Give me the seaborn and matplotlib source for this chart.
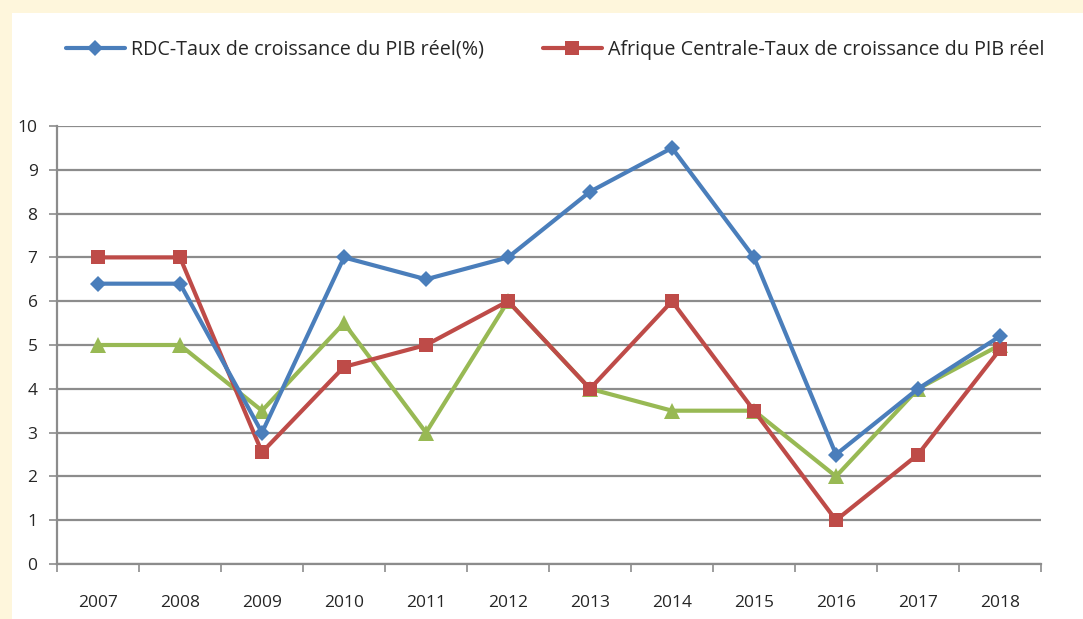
import numpy as np
import pandas as pd
import matplotlib
matplotlib.use("Agg")
import matplotlib.pyplot as plt
from matplotlib.patches import Rectangle
import seaborn as sns

# data
years = ["2007", "2008", "2009", "2010", "2011", "2012",
         "2013", "2014", "2015", "2016", "2017", "2018"]
rdc = [6.4, 6.4, 3.0, 7.0, 6.5, 7.0, 8.5, 9.5, 7.0, 2.5, 4.0, 5.2]
afrique_centrale = [7.0, 7.0, 2.55, 4.5, 5.0, 6.0, 4.0, 6.0, 3.5, 1.0, 2.5, 4.9]
troisieme = [5.0, 5.0, 3.5, 5.5, 3.0, 6.0, 4.0, 3.5, 3.5, 2.0, 4.0, 5.0]

label_rdc = "RDC-Taux de croissance du PIB réel(%)"
label_ac = "Afrique Centrale-Taux de croissance du PIB réel"

sns.set_style("white")
plt.rcParams["font.family"] = ["Open Sans", "DejaVu Sans"]

fig = plt.figure(figsize=(10.83, 6.19), dpi=100)
fig.patch.set_facecolor("#fef6dc")
# white chart panel, behind the axes
fig.patches.append(Rectangle((12 / 1083, 0), 1.0, (619 - 13) / 619,
                             transform=fig.transFigure, facecolor="white",
                             edgecolor="none", zorder=-10))

ax = fig.add_axes([57 / 1083, (619 - 564) / 619, (1041 - 57) / 1083, (564 - 126) / 619])
ax.set_facecolor("none")

pos = np.arange(len(years))
df = pd.DataFrame({"pos": pos, "rdc": rdc, "ac": afrique_centrale, "autre": troisieme})

sns.lineplot(data=df, x="pos", y="autre", ax=ax, color="#98b954", lw=3,
             marker="^", markersize=11, markeredgewidth=0, zorder=3)
sns.lineplot(data=df, x="pos", y="ac", ax=ax, color="#be4b48", lw=3,
             marker="s", markersize=10, markeredgewidth=0, zorder=4,
             label=label_ac)
sns.lineplot(data=df, x="pos", y="rdc", ax=ax, color="#4a7ebb", lw=3,
             marker="D", markersize=8, markeredgewidth=0, zorder=5,
             label=label_rdc)

ax.set_xlim(-0.5, len(years) - 0.5)
ax.set_ylim(0, 10)
ax.set_yticks(range(0, 11))
ax.yaxis.grid(True, color="#8c8c8c", lw=1.6)
ax.set_axisbelow(True)

# tick marks between categories, labels in the middle
ax.set_xticks(np.arange(-0.5, len(years), 1.0))
ax.set_xticklabels([])
ax.set_xticks(pos, minor=True)
ax.set_xticklabels(years, minor=True)
ax.tick_params(axis="x", which="major", bottom=True, length=6, width=1.2,
               color="#8c8c8c", direction="out")
ax.tick_params(axis="x", which="minor", bottom=True, length=0, pad=22, labelsize=12.5)
ax.tick_params(axis="y", left=True, length=6, width=1.2, color="#8c8c8c", direction="out",
               labelsize=12.5, pad=8)
ax.set_xlabel("")
ax.set_ylabel("")

for side in ["top", "right"]:
    ax.spines[side].set_visible(False)
for side in ["left", "bottom"]:
    ax.spines[side].set_color("#8c8c8c")
    ax.spines[side].set_linewidth(1.6)

handles, labels = ax.get_legend_handles_labels()
order = [labels.index(label_rdc), labels.index(label_ac)]
ax.legend([handles[i] for i in order], [labels[i] for i in order],
          loc="center", bbox_to_anchor=(555 / 1083, (619 - 50) / 619),
          bbox_transform=fig.transFigure, ncol=2, frameon=False,
          handlelength=3.0, columnspacing=3.0, handletextpad=0.3,
          fontsize=14.2)

fig.savefig("out.png", dpi=100, facecolor=fig.get_facecolor())
